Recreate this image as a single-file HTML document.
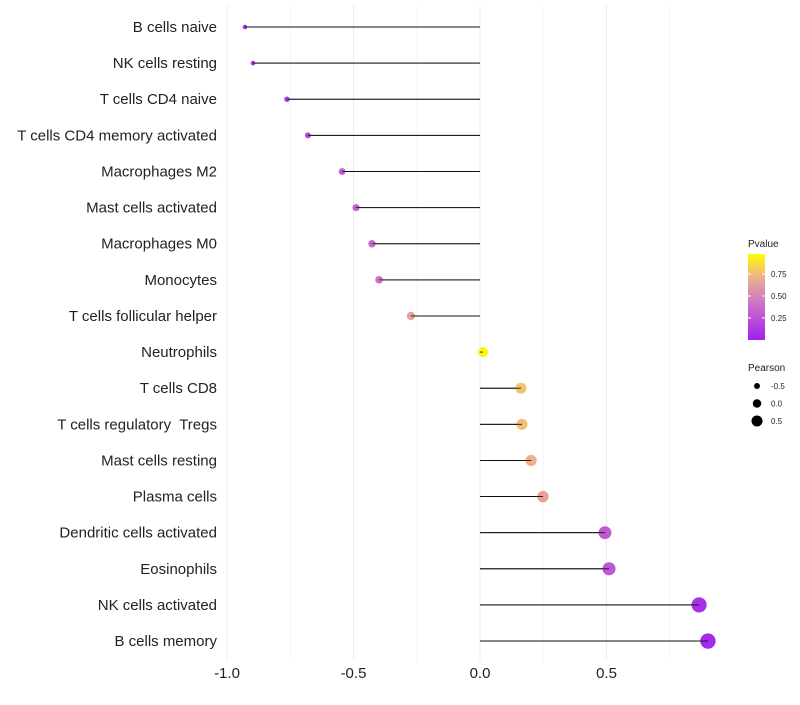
<!DOCTYPE html>
<html><head><meta charset="utf-8"><style>body{margin:0;background:#fff}svg{font-family:"Liberation Sans",sans-serif}text{white-space:pre}</style></head>
<body>
<svg id="c" width="800" height="700">
<defs><linearGradient id="pg" x1="0" y1="1" x2="0" y2="0">
<stop offset="0" stop-color="#A020F0"/><stop offset="0.5" stop-color="#D482BC"/><stop offset="0.75" stop-color="#F0B585"/><stop offset="1" stop-color="#FFFF00"/></linearGradient></defs>
</svg>
<script>
const categories=["B cells naive","NK cells resting","T cells CD4 naive","T cells CD4 memory activated","Macrophages M2","Mast cells activated","Macrophages M0","Monocytes","T cells follicular helper","Neutrophils","T cells CD8","T cells regulatory  Tregs","Mast cells resting","Plasma cells","Dendritic cells activated","Eosinophils","NK cells activated","B cells memory"];
const pearson=[-0.929,-0.897,-0.763,-0.680,-0.545,-0.490,-0.427,-0.399,-0.273,0.012,0.162,0.166,0.202,0.249,0.494,0.51,0.866,0.901];
const pvalue=[0.05,0.08,0.12,0.18,0.30,0.32,0.38,0.42,0.65,0.97,0.80,0.78,0.72,0.65,0.30,0.28,0.08,0.05];
const xTicks=[-1.0,-0.5,0.0,0.5];
const xMinor=[-0.75,-0.25,0.25,0.75];
const pTicks=[0.25,0.5,0.75];
const sizeKeys=[-0.5,0.0,0.5];
const svg=document.getElementById('c');const NS='http://www.w3.org/2000/svg';
function mk(t,a,p){const e=document.createElementNS(NS,t);for(const k in a)e.setAttribute(k,a[k]);(p||svg).appendChild(e);return e;}
const xs=v=>480+v*253;
const ys=i=>27+i*36.12;
const rs=p=>5+3*p;
function lerp(a,b,t){return a.map((v,i)=>Math.round(v+(b[i]-v)*t));}
function col(p){const st=[[0,[160,32,240]],[0.5,[212,130,188]],[0.75,[240,181,133]],[1,[255,255,0]]];p=Math.max(0,Math.min(1,p));for(let i=1;i<st.length;i++){if(p<=st[i][0]){const c=lerp(st[i-1][1],st[i][1],(p-st[i-1][0])/(st[i][0]-st[i-1][0]));return `rgb(${c})`;}}return 'rgb(255,255,0)';}
xMinor.forEach(v=>{const l=mk('line',{x1:xs(v),x2:xs(v),y1:5,y2:660,stroke:'#f5f5f5','stroke-width':1});});
xTicks.forEach(v=>{const l=mk('line',{x1:xs(v),x2:xs(v),y1:5,y2:660,stroke:'#ededed','stroke-width':1});
const t=mk('text',{x:xs(v),y:678,'text-anchor':'middle','font-size':15,fill:'#222'});t.textContent=v.toFixed(1);});
categories.forEach((c,i)=>{const y=ys(i);
const t=mk('text',{x:217,y:y+5,'text-anchor':'end','font-size':15,fill:'#222'});t.textContent=c;
const l=mk('line',{x1:xs(0),x2:xs(pearson[i]),y1:y,y2:y,stroke:'#111','stroke-width':1});
const d=mk('circle',{cx:xs(pearson[i]),cy:y,r:rs(pearson[i]),fill:col(pvalue[i])});
const l2=mk('line',{x1:xs(0),x2:xs(pearson[i]),y1:y,y2:y,stroke:'#111','stroke-width':0.8});
});
const lg=mk('g',{});
const pt=mk('text',{x:748,y:247,'font-size':10,fill:'#222'},lg);pt.textContent='Pvalue';
const cb=mk('rect',{x:748,y:254,width:17,height:86,fill:'url(#pg)'},lg);
const cy=p=>340-p*88;
pTicks.forEach(p=>{mk('line',{x1:748,x2:751,y1:cy(p),y2:cy(p),stroke:'#fff'},lg);mk('line',{x1:762,x2:765,y1:cy(p),y2:cy(p),stroke:'#fff'},lg);
const t=mk('text',{x:771,y:cy(p)+3,'font-size':8,fill:'#222'},lg);t.textContent=p.toFixed(2);});
const st=mk('text',{x:748,y:371,'font-size':10,fill:'#222'},lg);st.textContent='Pearson';
sizeKeys.forEach((s,i)=>{const y=386+i*17.5;const c=mk('circle',{cx:757,cy:y,r:rs(s)*0.85,fill:'#000'},lg);
const t=mk('text',{x:771,y:y+3,'font-size':8,fill:'#222'},lg);t.textContent=s.toFixed(1);});
</script>
</body></html>
